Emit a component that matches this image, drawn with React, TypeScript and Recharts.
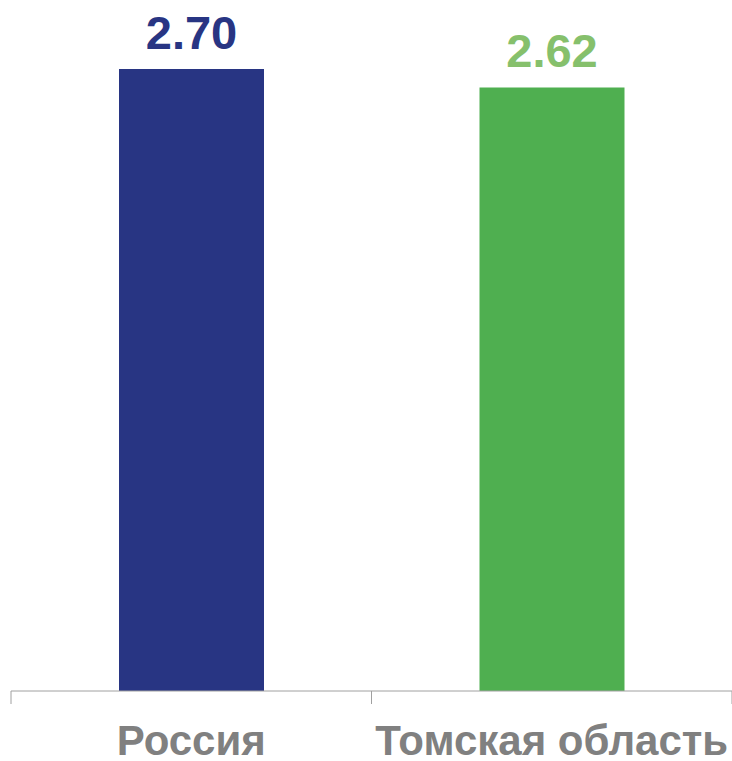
import { Bar, BarChart, Cell, LabelList, XAxis, YAxis } from "recharts";

// Региональное сравнение: два столбца, подписи значений сверху.
const regions = ["Россия", "Томская область"];
const values = [2.7, 2.62];

const barColors = ["#283583", "#4faf50"];
const labelColors = ["#283583", "#86c06c"];

const data = regions.map((name, i) => ({ name, value: values[i] }));

const FONT = "'Liberation Sans', Arial, sans-serif";
const AXIS = "#a0a0a0";
const TICK_MARGIN = 34;
const TICK_LEN = 13;

function ValueLabel(props: any) {
  const { x, y, width, index, value } = props;
  return (
    <text
      x={x + width / 2}
      y={y - 20}
      textAnchor="middle"
      fill={labelColors[index]}
      fontFamily={FONT}
      fontWeight="bold"
      fontSize={47}
    >
      {Number(value).toFixed(2)}
    </text>
  );
}

// category label + tick marks on the band edges (Excel-style "between" ticks)
function CategoryTick(props: any) {
  const { x, y, payload } = props;
  const half = payload.offset ?? 0;
  const y0 = y - TICK_MARGIN;
  return (
    <g>
      <line x1={x - half} x2={x - half} y1={y0} y2={y0 + TICK_LEN} stroke={AXIS} />
      <line x1={x + half} x2={x + half} y1={y0} y2={y0 + TICK_LEN} stroke={AXIS} />
      <text
        x={x}
        y={y}
        dy="0.71em"
        textAnchor="middle"
        fill="#808080"
        fontFamily={FONT}
        fontWeight="bold"
        fontSize={42}
      >
        {payload.value}
      </text>
    </g>
  );
}

export default function App() {
  return (
    <div style={{ position: "absolute", left: 0, top: 0, background: "#fff" }}>
      <BarChart
        width={732}
        height={761}
        data={data}
        margin={{ top: 69, right: 0, bottom: 0, left: 11 }}
      >
        <XAxis
          dataKey="name"
          height={70}
          axisLine={{ stroke: AXIS, strokeWidth: 1 }}
          tickLine={false}
          tickSize={0}
          tickMargin={TICK_MARGIN}
          interval={0}
          tick={CategoryTick}
        />
        <YAxis hide domain={[0, 2.7]} />
        <Bar dataKey="value" barSize={145} isAnimationActive={false}>
          {data.map((d, i) => (
            <Cell key={d.name} fill={barColors[i]} />
          ))}
          <LabelList dataKey="value" content={ValueLabel} />
        </Bar>
      </BarChart>
    </div>
  );
}
